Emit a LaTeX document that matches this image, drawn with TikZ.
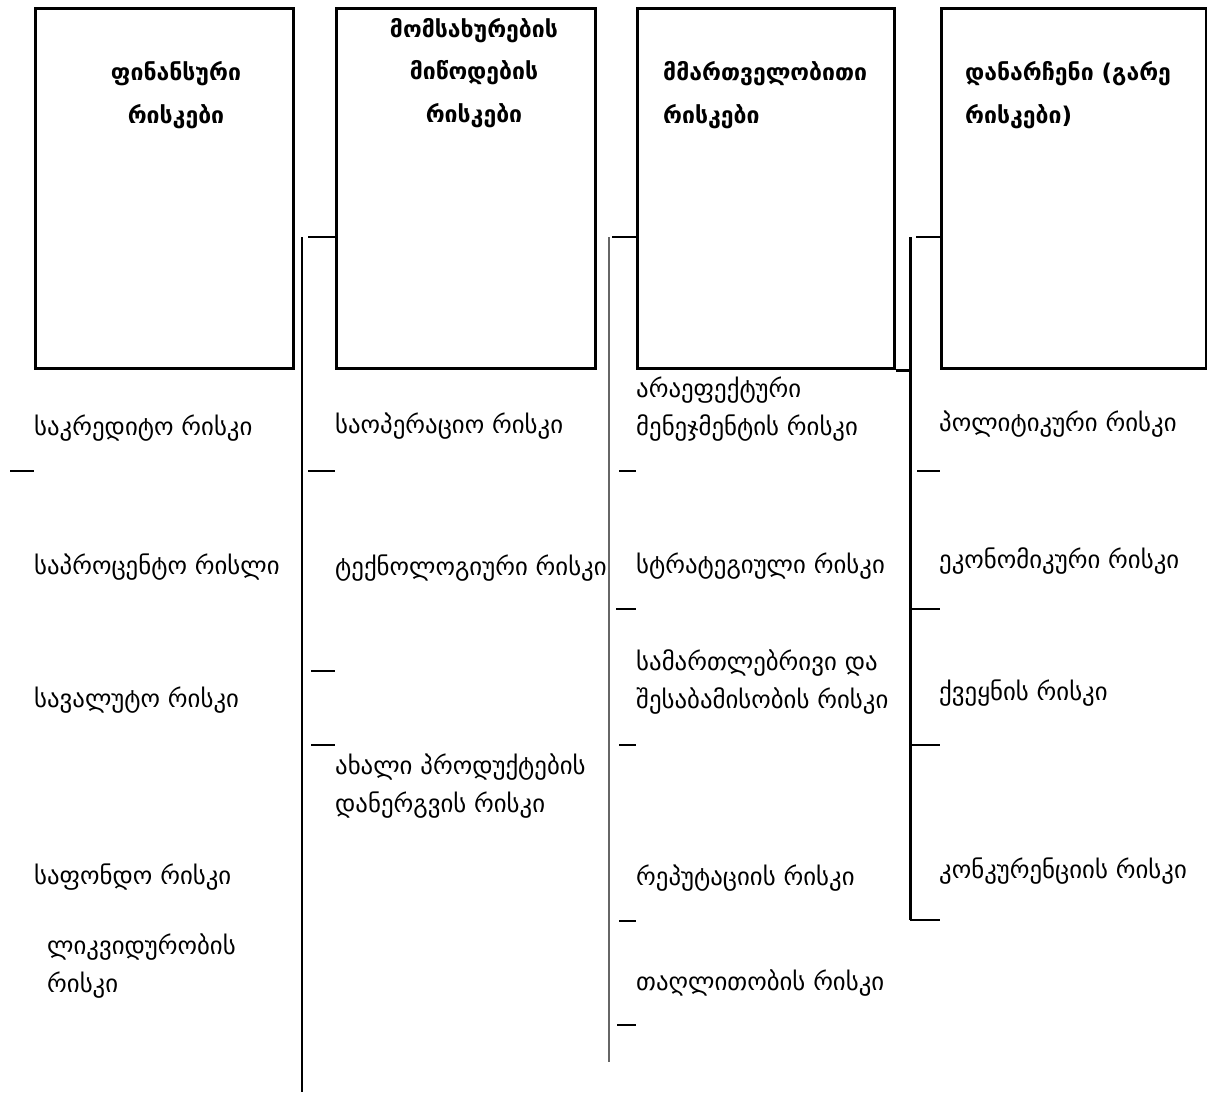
\documentclass[tikz,border=0pt]{standalone}
\usepackage{fontspec}
\setmainfont{DejaVu Sans}
\usetikzlibrary{positioning,calc}

\begin{document}
\begin{tikzpicture}[
  x=1pt, y=-1pt,
  every node/.style={inner sep=0pt},
  riskbox/.style={draw, line width=3pt, anchor=north west, minimum height=360pt},
  boxtitle/.style={font=\bfseries\fontsize{23}{42.5}\selectfont, anchor=base},
  item/.style={font=\fontsize{24.8}{37.5}\selectfont, anchor=base west, align=left},
  spine/.style={line width=1.5pt},
  link/.style={line width=2.5pt},
]
\useasboundingbox (0,0) rectangle (1207,1093);

% Category boxes
\node[riskbox, minimum width=258pt] (fin)  at (34,7)  {};
\node[riskbox, minimum width=259pt] (srv)  at (335,7) {};
\node[riskbox, minimum width=257pt] (mgmt) at (636,7) {};
\node[riskbox, minimum width=265pt] (ext)  at (940,7) {};

% Box titles (base = last line)
\node[boxtitle, align=center] (finT)  at (176,123) {ფინანსური\\რისკები};
\node[boxtitle, align=center] (srvT)  at (474,122) {მომსახურების\\მიწოდების\\რისკები};
\node[boxtitle, align=left, anchor=base west] (mgmtT) at (663,123) {მმართველობითი\\რისკები};
\node[boxtitle, align=left, anchor=base west] (extT)  at (965,123) {დანარჩენი (გარე\\რისკები)};

% Spines
\coordinate (spA) at (302,237); \coordinate (spAend) at (302,1092);
\coordinate (spB) at (609,237); \coordinate (spBend) at (609,1062);
\coordinate (spC) at (910,237); \coordinate (spCend) at (910,920);
\draw[spine] (spA) -- (spAend);
\draw[spine, black!60, line width=2pt] (spB) -- (spBend);
\draw[spine, line width=3pt] (spC) -- (spCend);
\draw[link] ([xshift=6pt]spA) -- (spA -| srv.west);
\draw[link] ([xshift=3pt]spB) -- (spB -| mgmt.west);
\draw[link] ([xshift=6pt]spC) -- (spC -| ext.west);
\draw[line width=3pt] (mgmt.south east) -- (mgmt.south east -| spC);

% Stubs
\draw[link] (10,471) -- (fin.west |- 0,471);
\foreach \y/\s in {471/308, 671/311, 745/311}
  \draw[link] (\s,\y) -- (srv.west |- 0,\y);
\foreach \y/\s in {471/619, 609/616, 745/619, 921/619, 1025/617}
  \draw[link] (\s,\y) -- (mgmt.west |- 0,\y);
\foreach \y/\s in {471/917, 609/910, 745/910, 920/910}
  \draw[link] (\s,\y) -- (ext.west |- 0,\y);

% Financial risks
\node[item] (credit)   at (34,435) {საკრედიტო რისკი};
\node[item] (interest) at (34,574) {საპროცენტო რისლი};
\node[item] (currency) at (34,707) {სავალუტო რისკი};
\node[item] (stock)    at (34,884) {საფონდო რისკი};
\node[item] (liquid)   at (47,992) {ლიკვიდურობის\\რისკი};

% Service delivery risks
\node[item] (oper)     at (335,433) {საოპერაციო რისკი};
\node[item] (tech)     at (335,575) {ტექნოლოგიური რისკი};
\node[item] (newprod)  at (335,812) {ახალი პროდუქტების\\დანერგვის რისკი};

% Management risks
\node[item] (ineff)    at (636,435) {არაეფექტური\\მენეჯმენტის რისკი};
\node[item] (strat)    at (636,573) {სტრატეგიული რისკი};
\node[item] (legal)    at (636,708) {სამართლებრივი და\\შესაბამისობის რისკი};
\node[item] (reput)    at (636,885) {რეპუტაციის რისკი};
\node[item] (fraud)    at (636,990) {თაღლითობის რისკი};

% Other (external) risks
\node[item] (polit)    at (939,431) {პოლიტიკური რისკი};
\node[item] (econ)     at (939,568) {ეკონომიკური რისკი};
\node[item] (country)  at (939,700) {ქვეყნის რისკი};
\node[item] (compet)   at (939,878) {კონკურენციის რისკი};
\end{tikzpicture}
\end{document}
